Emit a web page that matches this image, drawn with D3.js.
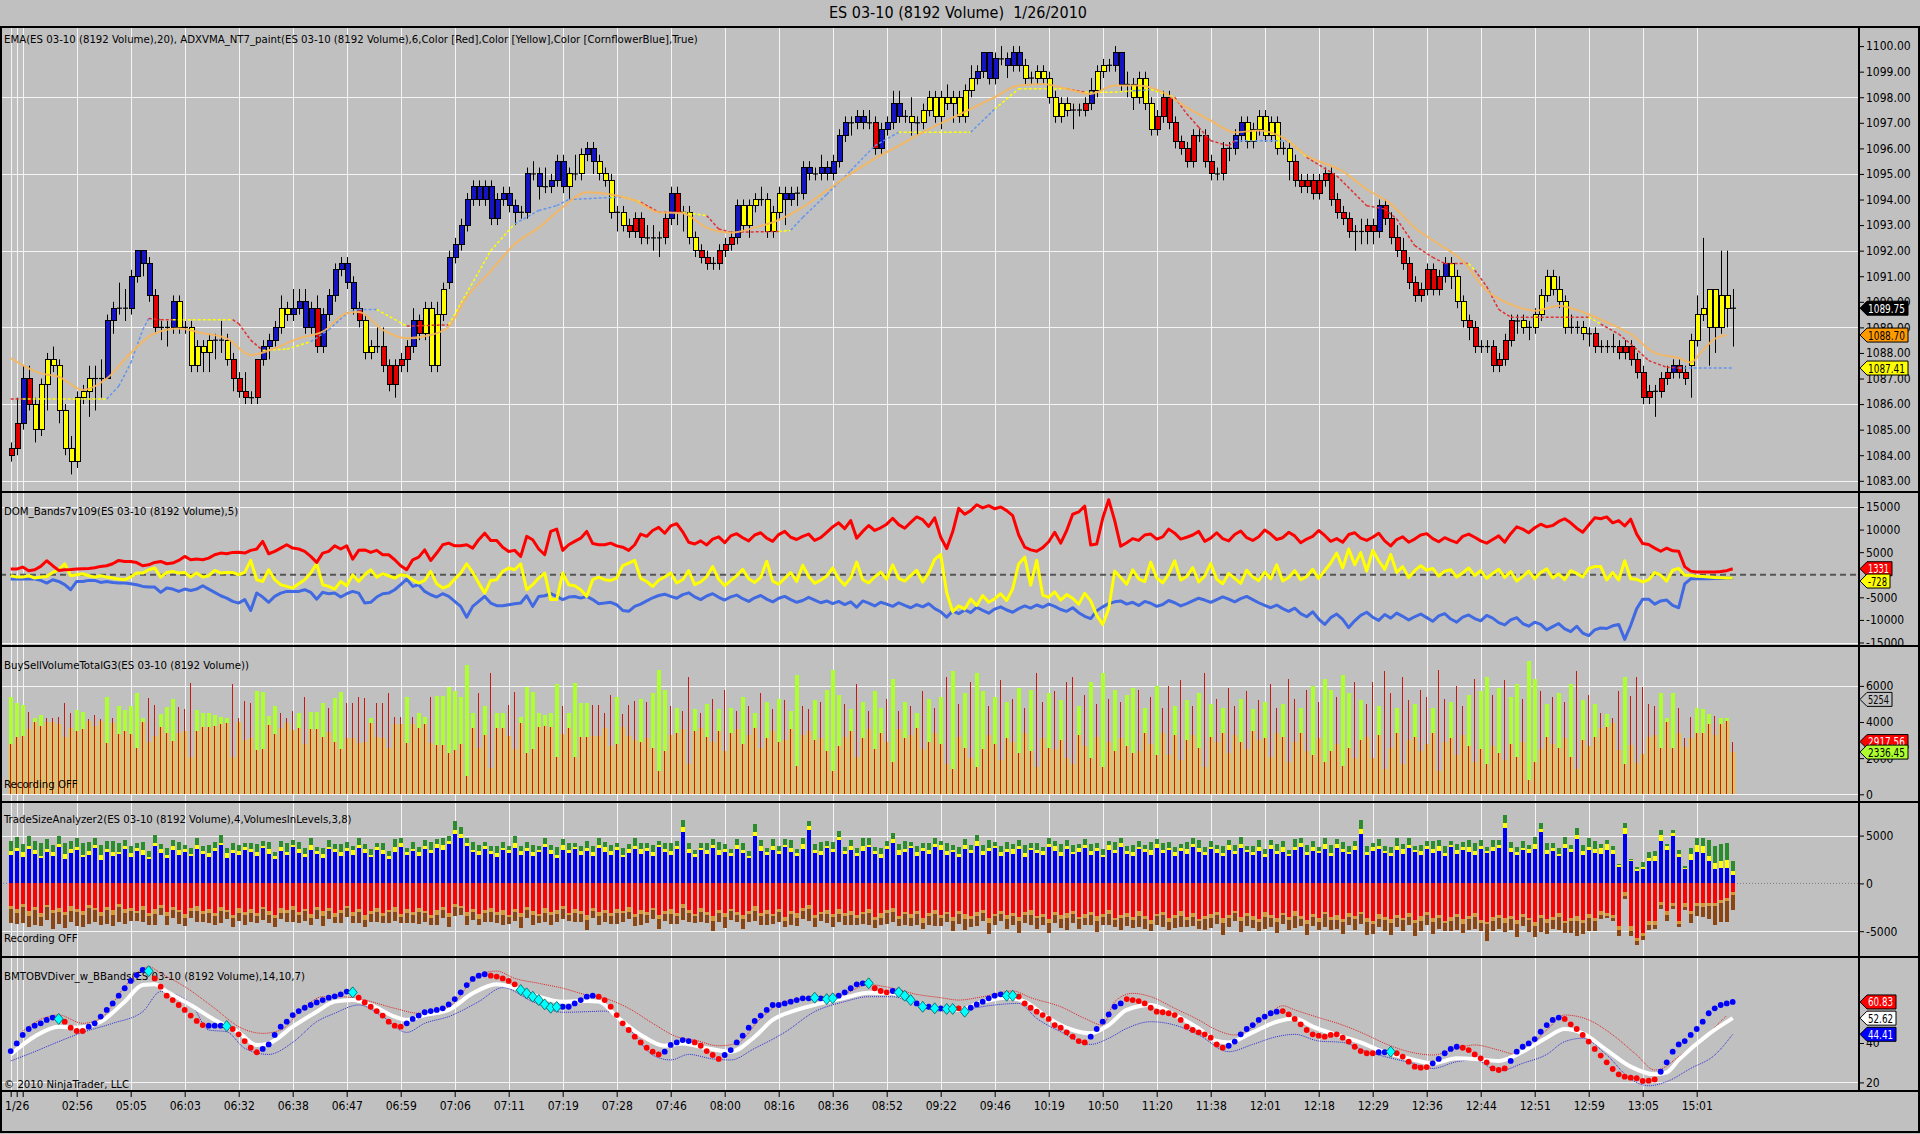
<!DOCTYPE html>
<html>
<head>
<meta charset="utf-8">
<script src="https://cdn.jsdelivr.net/npm/d3@7"></script>
<style>
body{margin:0;background:#c0c0c0;overflow:hidden;}
svg{display:block;font-family:"Liberation Sans Narrow","DejaVu Sans Condensed","Liberation Sans",sans-serif;}
.axis text{font-family:"Liberation Sans Narrow","DejaVu Sans Condensed","Liberation Sans",sans-serif;font-size:12px;fill:#000;}
.axis line{stroke:#000;}
.lbl{font-size:11.3px;fill:#000;}
</style>
</head>
<body>
<div id="chart"></div>
<script>
// ---- price bars (ES 03-10, 8192 volume bars, 1/26/2010) ----
var open = [
1084.25,1084.25,1085.25,1087,1086,1085,1086.75,1087.75,1087.5,1085.75,
1084.25,1083.75,1086.25,1086.5,1087,1087,1087,1089.25,1089.75,1089.75,
1089.75,1091,1092,1091.5,1090.25,1089,1089,1089,1090,1089,
1089,1087.5,1088.25,1088,1088.5,1088.5,1088.5,1087.75,1087,1086.5,
1086.25,1086.25,1087.75,1088.25,1088.5,1089,1089.75,1089.5,1089.75,1090,
1089,1089.75,1088.25,1089.5,1090.25,1091.25,1091.5,1090.75,1089.75,1089.25,
1088,1088.25,1088.25,1087.5,1086.75,1087.5,1087.75,1088.25,1089.25,1088.75,
1089.75,1087.5,1089.5,1090.75,1091.75,1092.25,1093,1094,1094.5,1094,
1094.5,1093.25,1094,1094.25,1093.75,1093.5,1093.5,1095,1095,1094.5,
1094.5,1094.75,1095.5,1094.5,1095,1095,1095.75,1096,1095.5,1095,
1094.75,1093.5,1093.5,1093,1092.75,1093.25,1092.5,1092.5,1092.5,1092.5,
1093.25,1094.25,1093.5,1093.5,1092.5,1092,1091.75,1091.5,1091.5,1092,
1092.25,1092.5,1093.75,1093,1093.75,1094,1094,1092.75,1093.5,1094.25,
1094,1094.25,1094.25,1095.25,1095,1095,1095.25,1095,1095.5,1096.5,
1097,1097,1097.25,1097,1097,1096,1096.75,1097,1097.75,1097.25,
1097.25,1097,1097,1097.5,1098,1097.25,1098,1097.75,1098,1097.25,
1098.25,1098.75,1099,1099.75,1098.75,1099.5,1099.5,1099.25,1099.75,1099.25,
1098.75,1098.75,1099,1098.75,1098,1097.25,1097.75,1097.5,1097.5,1097.5,
1097.75,1098.25,1099,1099.25,1099.25,1099.75,1098.5,1098.5,1098,1098.75,
1097.75,1096.75,1097.25,1098,1097,1096.25,1096,1095.5,1096.5,1096.5,
1095.5,1095,1095,1096,1096,1096.5,1097,1096.25,1096.75,1097.25,
1096.5,1097,1096,1096,1095.5,1094.75,1094.5,1094.75,1094.25,1094.75,
1095,1094,1093.5,1093.25,1092.75,1092.75,1092.75,1093,1092.75,1093.75,
1093.25,1092.5,1092,1091.5,1090.75,1090.25,1090.5,1091.25,1090.5,1091,
1091.5,1091,1090,1089.25,1089,1088.25,1088.25,1088.25,1087.5,1087.75,
1088.5,1089.25,1089.25,1089,1089,1089.5,1090.25,1091,1090.5,1090,
1089,1089,1089,1088.75,1088.75,1088.25,1088.25,1088.25,1088.25,1088,
1088.25,1087.75,1087.25,1086.25,1086.5,1086.5,1087,1087.25,1087.5,1087.25,
1087.5,1088.5,1089.5,1089,1090.5,1089,1090.25,1089.75];
var high = [
1084.5,1086.25,1087.5,1087.5,1086.25,1087,1088,1088.25,1087.75,1086,
1084.75,1086.5,1086.75,1087.5,1087.5,1087.75,1089.5,1090,1090.75,1090.5,
1091.25,1092,1092,1091.75,1090.5,1089.25,1089.25,1090.25,1090.25,1089.25,
1089.25,1088.5,1088.5,1088.75,1088.75,1089.25,1088.75,1088,1087.25,1087.25,
1086.5,1087.75,1088.5,1088.75,1089.25,1090.25,1090,1090.5,1090.5,1090.5,
1090,1090.25,1089.75,1090.5,1091.5,1091.75,1091.75,1091,1090,1089.5,
1088.5,1089,1089,1087.75,1087.75,1088,1088.5,1089.75,1089.5,1090,
1090,1090,1090.75,1092,1092.5,1093.25,1094.25,1094.75,1094.75,1094.75,
1094.75,1094.25,1094.5,1094.5,1094,1093.75,1095.25,1095.5,1095.25,1095.25,
1095,1095.75,1095.75,1095.25,1095.75,1096,1096.25,1096.25,1095.75,1095.25,
1095,1093.75,1093.75,1093.25,1093.5,1093.5,1093,1093,1092.75,1093.5,
1094.5,1094.5,1093.75,1093.75,1092.75,1092.25,1092,1091.75,1092.25,1092.5,
1092.75,1094,1094,1094,1094.25,1094.5,1094.25,1093.75,1094.5,1094.5,
1094.5,1094.5,1095.5,1095.5,1095.25,1095.75,1095.5,1095.75,1096.75,1097.25,
1097.25,1097.5,1097.5,1097.5,1097.25,1097,1097.25,1098.25,1098.25,1097.5,
1098,1097.25,1097.75,1098.25,1098.25,1098.25,1098.5,1098.25,1098.25,1098.5,
1099.25,1099.25,1099.75,1099.75,1099.75,1100,1099.75,1100,1100,1099.5,
1099,1099.25,1099.25,1099,1098.25,1098,1098,1097.75,1097.75,1098,
1098.75,1099.25,1099.5,1099.5,1100,1099.75,1099,1098.75,1099,1099,
1098,1097.5,1098.25,1098.25,1097.25,1096.5,1096.25,1096.75,1096.75,1096.75,
1095.75,1095.25,1096.25,1096.25,1096.75,1097.25,1097.25,1097,1097.5,1097.5,
1097.25,1097.25,1096.25,1096.25,1095.75,1095,1095,1095,1095,1095.25,
1095.25,1094.25,1093.75,1093.5,1093,1093.25,1093.25,1093.25,1094,1094,
1093.5,1093,1092.5,1091.75,1091,1090.75,1091.5,1091.5,1091.25,1091.75,
1091.75,1091.25,1090.25,1089.5,1089.25,1088.5,1088.5,1088.5,1088,1088.75,
1089.5,1089.5,1089.5,1089.25,1089.75,1090.5,1091.25,1091.25,1091,1090.25,
1089.5,1089.25,1089.25,1089,1089,1088.5,1088.5,1088.75,1088.5,1088.5,
1088.5,1088,1087.5,1086.75,1086.75,1087.25,1087.5,1087.75,1087.75,1087.5,
1088.75,1090.25,1092.5,1090.5,1090.5,1092,1092,1090.5];
var low = [
1083.75,1084,1085,1085.75,1084.5,1084.75,1085.75,1087.25,1085.25,1084,
1083.25,1083.5,1086,1085.5,1085.75,1086.25,1087,1088.75,1089.5,1089.25,
1089.5,1090.75,1091,1090,1088.75,1088.5,1088.25,1088.75,1088.75,1088.75,
1087.25,1087.25,1087.25,1087.25,1087.75,1088,1087.5,1086.5,1086.25,1086,
1086,1086,1087.5,1087.75,1088.25,1088.75,1089.25,1089.25,1089.5,1088.75,
1088.75,1088,1088,1089.25,1090,1091,1090.5,1089.5,1089,1087.75,
1087.75,1088,1087.25,1086.5,1086.25,1087.25,1087.25,1088,1088.5,1088.5,
1087.25,1087.25,1089.25,1090.5,1091.5,1092,1092.75,1093.75,1093.75,1093.75,
1093,1093,1093.75,1093.5,1093,1093.25,1093.25,1094.75,1094,1094.25,
1094.25,1094.5,1094.25,1094,1094.75,1094.75,1095.5,1095,1094.75,1094.5,
1093.25,1092.75,1092.75,1092.5,1092.5,1092.25,1092.25,1092,1091.75,1092.25,
1093,1093,1092.75,1092.25,1091.75,1091.5,1091.25,1091.25,1091.25,1091.75,
1092,1092.25,1092.75,1092.5,1093.5,1093.75,1092.5,1092.5,1093.25,1093,
1093.75,1093.75,1094,1094.75,1094.75,1094.75,1094.75,1094.75,1095.25,1096.25,
1096.5,1096.75,1096.75,1096.75,1095.75,1095.75,1096.5,1096.75,1097,1097,
1096.5,1096.5,1096.75,1097.25,1097,1096.75,1097.5,1097,1097,1097,
1098,1098.5,1098.75,1098.5,1098.5,1099.25,1098.75,1099,1099,1098.5,
1098.5,1098.5,1098.5,1097.75,1097,1097,1097.25,1096.75,1097.25,1097.25,
1097.5,1098,1098.75,1099,1099,1098.25,1098,1097.5,1097.75,1097.5,
1096.5,1096.5,1097,1096.75,1096,1095.75,1095.25,1095.25,1096.25,1095.25,
1094.75,1094.75,1094.75,1095.5,1095.75,1096.25,1096,1096,1096.5,1096.25,
1096.25,1095.75,1095.75,1094.75,1094.5,1094.25,1094.25,1094,1094,1094.5,
1093.75,1093.25,1093,1092.5,1092,1092.25,1092.25,1092.25,1092.5,1093,
1092.25,1091.75,1091.25,1090.5,1090,1090,1090.25,1090.25,1090.25,1090.75,
1090.5,1089.75,1089,1088.5,1088,1088,1088,1087.25,1087.25,1087.5,
1088.25,1088.75,1088.75,1088.5,1088.75,1089.25,1090,1090.25,1089.75,1088.75,
1088.75,1088.75,1088.5,1088.25,1088,1088,1088,1088,1087.75,1087.75,
1087.5,1087,1086,1086,1085.5,1086.25,1086.75,1087,1087,1086.75,
1086.25,1088.25,1089.25,1087.5,1088,1088.75,1089,1088.25];
var close = [
1084,1085.25,1087,1086,1085,1086.75,1087.75,1087.5,1085.75,1084.25,
1083.75,1086.25,1086.5,1087,1087,1087,1089.25,1089.75,1089.75,1089.75,
1091,1092,1091.5,1090.25,1089,1089,1089,1090,1089,1089,
1087.5,1088.25,1088,1088.5,1088.5,1088.5,1087.75,1087,1086.5,1086.25,
1086.25,1087.75,1088.25,1088.5,1089,1089.75,1089.5,1089.75,1090,1089,
1089.75,1088.25,1089.5,1090.25,1091.25,1091.5,1090.75,1089.75,1089.25,1088,
1088.25,1088.25,1087.5,1086.75,1087.5,1087.75,1088.25,1089.25,1088.75,1089.75,
1087.5,1089.5,1090.5,1091.75,1092.25,1093,1094,1094.5,1094,1094.5,
1093.25,1094,1094.25,1093.75,1093.5,1093.5,1095,1095,1094.5,1094.5,
1094.75,1095.5,1094.5,1095,1095,1095.75,1096,1095.5,1095,1094.75,
1093.5,1093.5,1093,1092.75,1093.25,1092.5,1092.5,1092.5,1092.5,1093.25,
1094.25,1093.5,1093.5,1092.5,1092,1091.75,1091.5,1091.5,1092,1092.25,
1092.5,1093.75,1093,1093.75,1094,1094,1092.75,1093.5,1094.25,1094,
1094.25,1094.25,1095.25,1095,1095,1095.25,1095,1095.5,1096.5,1097,
1097,1097.25,1097,1097,1096,1096.75,1097,1097.75,1097.25,1097.25,
1097,1097,1097.5,1098,1097.25,1098,1097.75,1098,1097.25,1098.25,
1098.75,1099,1099.75,1098.75,1099.5,1099.5,1099.25,1099.75,1099.25,1098.75,
1098.75,1099,1098.75,1098,1097.25,1097.75,1097.5,1097.5,1097.5,1097.75,
1098.25,1099,1099.25,1099.25,1099.75,1098.5,1098.5,1098,1098.75,1097.75,
1096.75,1097.25,1098,1097,1096.25,1096,1095.5,1096.5,1096.5,1095.5,
1095,1095,1096,1096,1096.5,1097,1096.25,1096.75,1097.25,1096.5,
1097,1096,1096,1095.5,1094.75,1094.5,1094.75,1094.25,1094.75,1095,
1094,1093.5,1093.25,1092.75,1092.75,1092.75,1093,1092.75,1093.75,1093.25,
1092.5,1092,1091.5,1090.75,1090.25,1090.5,1091.25,1090.5,1091,1091.5,
1091,1090,1089.25,1089,1088.25,1088.25,1088.25,1087.5,1087.75,1088.5,
1089.25,1089.25,1089,1089,1089.5,1090.25,1091,1090.5,1090,1089,
1089,1089,1088.75,1088.75,1088.25,1088.25,1088.25,1088.25,1088,1088.25,
1087.75,1087.25,1086.25,1086.5,1086.5,1087,1087.25,1087.5,1087.25,1087,
1088.5,1089.5,1089.75,1090.5,1089,1090.25,1089.75,1089.75];
// ADXVMA paint per bar: r = down, y = flat, b = up
var paint = ("rrbryyyyyy" + "yyyyyybbbb" + "bbbbryybyy" + "yyyyyyyrrr" + "rrbbbyybbb" +
  "brbbbbbbry" + "yyrrrrrbry" + "yyybbbbbbb" + "bbbbbbbbbb" + "bbbyyybbyy" +
  "yyyrrrrrrr" + "bryyyrrrrr" + "rbyyyyyyyb" + "bbbbbbbbbb" + "bbbbrbbbby" +
  "yyyyyyyyyy" + "ybbbbbbbby" + "yyyyyyyyyr" + "byyybbyyyy" + "yrrrrrrrrr" +
  "rrrrbbyyyy" + "yyyyrrrrrr" + "rrrrrrrrbr" + "rrrrrrrrrb" + "yyyrrrrrrr" +
  "ryyyyyyyyy" + "yyyyrrrrrr" + "rrrrrrrbrr" + "yyyyyyyy").split("");

// EMA(20)  [bar, value]
var ema = [[0,1087.8],[5,1087.2],[8,1087.07],[12,1086.55],[16,1087.0],[20,1088.0],[24,1088.77],[28,1088.96],
[32,1088.77],[36,1088.57],[40,1087.92],[44,1088.18],[48,1088.57],[52,1088.83],[56,1089.55],[58,1089.6],
[62,1088.9],[66,1088.57],[70,1088.7],[73,1089.03],[76,1090.18],[80,1091.2],[84,1092.26],[88,1092.9],
[92,1093.7],[96,1094.28],[100,1094.2],[104,1093.96],[108,1093.5],[112,1093.46],[116,1092.9],[120,1092.7],
[124,1092.9],[128,1093.2],[132,1093.7],[136,1094.35],[140,1095.0],[144,1095.6],[148,1096.1],[152,1096.63],
[156,1097.09],[160,1097.54],[164,1098.0],[168,1098.46],[172,1098.52],[176,1098.33],[180,1098.13],[184,1098.46],
[188,1098.46],[192,1098.2],[196,1097.6],[200,1097.09],[204,1096.63],[208,1096.7],[212,1096.43],[216,1095.72],
[222,1095.1],[226,1094.4],[230,1093.83],[234,1092.9],[238,1092.26],[242,1091.6],[246,1090.44],[250,1089.9],
[254,1089.65],[258,1089.85],[262,1089.6],[266,1089.2],[270,1088.74],[274,1088.0],[278,1087.8],[280,1087.63],
[282,1088.1],[284,1088.55],[286,1088.7]];

// ADXVMA line: bars, values, colour of the segment that starts there
var adxBars = [0,2,16,18,20,22,23,25,27,37,38,40,42,46,50,53,56,58,61,66,73,80,84,88,91,93,102,105,108,112,116,118,120,
  128,130,132,136,140,144,148,160,164,168,176,179,184,187,190,194,196,198,200,203,204,213,216,221,226,229,231,234,237,
  239,243,244,246,248,250,263,265,268,270,273,276,278,287];
var adxVals = [1086.2,1086.2,1086.2,1086.7,1087.6,1088.9,1089.35,1089.3,1089.3,1089.3,1089.15,1088.5,1088.1,1088.15,
  1088.44,1088.9,1089.55,1089.7,1089.7,1089.05,1089.1,1092.0,1093.05,1093.57,1093.76,1094.0,1094.1,1093.9,1093.5,
  1093.5,1093.37,1092.85,1092.72,1092.75,1092.8,1093.3,1094.2,1095.13,1096.1,1096.63,1096.63,1097.54,1098.33,1098.33,
  1098.2,1098.2,1098.25,1098.3,1098.0,1097.35,1096.83,1096.3,1096.1,1096.3,1096.3,1095.65,1094.93,1093.76,1093.63,
  1093.24,1092.2,1091.74,1091.5,1091.5,1091.24,1090.6,1089.7,1089.4,1089.4,1089.13,1088.74,1088.35,1087.7,1087.44,
  1087.41,1087.41];
var adxPaint = "rybbbbrryrrryybbbbyryybbbbyrryrrrybbbbbybyyryybyrrrrrbyrrrrrrrryrrrryrrrrrbyy".split("");

// ---- DOM_Bands (thousands) ----
var domRed = [1.25,1.25,1.7,0.9,1.1,1.85,3.1,2.0,0.96,1.1,
1.15,1.25,1.33,1.4,1.55,1.85,2.0,2.44,3.17,2.95,
2.95,2.7,2.0,2.2,2.73,2.95,2.44,2.58,3.17,4.06,
3.32,3.47,3.32,3.69,4.43,4.8,4.65,4.95,5.0,4.8,
5.4,5.7,7.4,4.65,5.17,5.9,6.64,5.9,5.7,5.17,
4.06,2.73,4.8,5.17,6.4,5.7,6.4,3.47,5.4,5.5,
4.95,5.4,4.43,4.43,3.32,2.0,1.1,3.32,3.9,5.5,
3.17,4.8,6.64,7.0,6.4,6.4,6.64,5.9,7.75,9.2,
7.6,7.6,6.1,5.17,5.4,4.06,8.5,7.75,5.7,4.43,
9.6,10.1,5.4,6.64,7.4,8.1,9.6,6.9,6.64,6.64,
7.0,6.4,6.1,5.4,6.64,
9.0,8.5,9.8,10.5,9.2,10.8,11.3,9.5,7.2,6.8,
7.5,6.6,7.9,8.4,7.1,8.6,9.1,8.2,7.5,8.8,
9.3,8.1,7.4,8.9,9.6,8.3,7.8,8.5,9.0,7.6,
8.2,9.4,10.6,11.5,10.2,12.0,8.1,9.6,10.9,9.8,
10.4,11.2,12.5,11.1,10.3,11.6,12.8,12.2,10.7,12.6,
8.3,5.8,9.5,14.7,13.4,14.2,15.5,14.8,15.3,14.6,
15.0,14.2,13.1,8.8,6.1,5.5,5.2,6.0,7.3,9.4,
7.0,9.8,13.4,13.9,15.2,6.6,6.8,12.5,16.6,12.0,6.3,
7.1,8.0,7.6,8.8,9.0,7.9,8.4,10.1,9.2,7.9,
8.3,8.8,9.6,7.4,8.1,9.3,8.0,7.5,8.9,9.7,
8.2,7.6,8.4,9.9,9.0,7.8,8.2,9.4,8.6,7.1,
7.9,8.5,9.8,8.7,7.4,8.0,7.2,8.9,9.3,8.1,
7.6,8.3,9.2,7.5,6.4,7.8,8.4,7.2,7.9,8.8,
9.1,8.0,7.3,8.2,7.6,7.1,8.5,9.0,8.3,7.5,
7.0,7.8,8.6,7.2,9.1,10.6,10.1,9.3,10.4,11.2,
10.6,10.9,11.8,12.4,11.5,10.3,9.4,11.0,12.6,
12.4,12.8,11.5,12.0,10.8,12.3,9.0,6.9,6.7,5.9,5.2,5.9,5.3,5.2,
1.8,0.8,0.6,0.6,0.6,0.6,0.7,0.9,1.331];
var domYellow = [-0.22,-0.52,-0.52,-0.22,-0.74,-0.52,-0.37,0.52,1.1,2.44,
-0.22,0,0.22,-0.22,-0.52,-0.22,-0.52,-0.74,-0.96,-1.1,
-0.52,0.37,0.37,1.1,1.48,-0.52,0.52,0.74,0.37,0.52,
-0.52,0.37,-0.52,-0.22,0.96,0.37,0.52,0.52,0,0.52,
3.17,-1.1,-1.48,1.1,-1.1,-2.2,-2.58,-2.95,-2.0,-1.1,
0.37,2.44,-2.2,-2.58,-3.17,-1.48,-2.44,0,-1.48,0,
1.1,-0.52,0.22,-0.22,-0.74,0,-0.22,-1.1,-1.85,-1.25,
0.74,-2.0,-2.95,-2.44,-0.96,0.37,2.44,0.52,-1.85,-4.06,
-1.25,-1.1,0.74,1.48,1.1,2.44,-3.32,-2.2,-0.74,0.37,
-5.5,-5.5,0.37,-2.2,-2.44,-3.32,-4.8,-1.1,-0.52,-1.1,
-1.25,-0.74,2.0,2.58,3.17,
-0.8,-1.5,-2.6,-1.2,-0.5,0.4,-1.8,-1.1,0.9,-2.2,
-1.6,-0.4,1.8,-1.0,-2.4,-1.3,-0.2,1.2,-0.9,-1.7,
-0.6,3.0,-1.4,-2.1,-0.8,0.5,-1.5,2.1,-0.4,-1.9,
-1.2,-0.3,1.5,-0.9,-2.3,-0.7,2.8,-1.1,-1.8,-0.5,
0.6,-1.0,2.2,-0.8,-1.4,-0.2,1.0,-1.6,0.4,3.4,
4.5,-4.0,-8.2,-6.9,-7.6,-5.4,-6.8,-4.6,-6.1,-5.3,
-4.2,-5.7,-3.1,2.4,3.9,-2.3,3.2,-4.5,-5.0,-3.8,
-5.6,-4.4,-5.2,-6.5,-4.1,-5.8,-9.0,-11.0,-7.5,0.8,
-0.6,-2.1,1.1,-0.9,-1.5,2.8,-0.7,-1.8,0.2,3.1,
-1.2,-0.4,1.6,-1.6,-0.3,2.5,-1.0,-2.0,0.3,-0.8,
-1.9,1.0,-0.5,-1.3,0.6,-0.9,2.2,-1.4,-0.6,0.9,
-1.1,-0.4,1.2,-0.8,0.9,2.6,4.8,1.5,5.7,2.2,
4.9,0.8,5.4,3.1,1.2,4.5,0.5,1.8,-0.6,0.9,
2.0,1.0,1.4,-0.3,0.8,1.1,-0.5,0.4,1.5,-0.2,
0.9,-0.8,0.3,1.2,-0.6,0.7,-1.4,-0.4,0.8,-0.9,
0.5,1.3,-0.7,0.2,-1.1,0.9,0.3,-0.5,1.4,1.8,
1.8,-1.15,0.5,-1.15,3.1,-0.9,-1.0,-1.6,-1.1,0.5,
-0.1,-1.4,1.0,1.4,-0.1,-0.1,-0.35,-0.4,-0.5,-0.6,-0.65,-0.7,-0.728];
var domBlue = [-0.96,-0.96,-0.96,-0.96,-0.96,-1.25,-1.85,-1.1,-1.48,-2.2,
-3.32,-1.48,-1.48,-1.25,-1.25,-1.7,-1.48,-1.7,-1.85,-1.85,
-2.0,-2.2,-2.58,-2.73,-2.73,-3.9,-2.95,-3.17,-3.69,-3.17,
-3.47,-3.17,-2.44,-3.17,-3.9,-4.65,-5.17,-5.9,-6.27,-5.5,
-7.9,-4.06,-4.94,-6.1,-4.8,-4.06,-3.69,-3.69,-3.69,-3.32,
-3.9,-5.4,-3.9,-4.2,-4.06,-4.94,-4.2,-3.69,-4.06,-6.27,
-6.1,-4.94,-4.2,-4.06,-3.32,-2.2,-0.96,-2.58,-2.2,-3.69,
-4.43,-4.94,-4.2,-4.8,-5.9,-7.0,-9.4,-7.0,-5.9,-4.8,
-6.27,-6.86,-6.86,-6.64,-6.4,-6.27,-4.65,-7.0,-4.8,-4.65,
-4.2,-4.8,-5.5,-4.94,-4.8,-5.17,-4.8,-5.5,-6.4,-6.27,
-6.1,-6.64,-7.9,-8.1,-7.0,
-6.5,-5.8,-5.1,-4.6,-4.3,-4.8,-5.2,-4.4,-4.0,-4.9,
-5.5,-4.7,-4.2,-5.0,-5.6,-4.9,-4.5,-5.3,-5.9,-5.1,
-4.6,-5.4,-6.0,-5.2,-4.8,-5.5,-6.1,-5.7,-5.0,-5.6,
-6.2,-5.8,-6.4,-5.9,-6.6,-6.0,-7.2,-5.8,-6.3,-6.9,
-6.1,-6.5,-7.0,-6.2,-6.8,-7.3,-6.6,-7.1,-6.4,-7.5,
-8.2,-9.4,-8.0,-8.6,-7.8,-8.4,-7.2,-7.9,-8.5,-7.6,
-7.1,-7.8,-8.3,-7.5,-6.9,-7.4,-6.7,-7.2,-6.5,-7.0,
-7.7,-8.1,-7.3,-8.4,-9.2,-9.7,-8.0,-7.1,-6.4,-6.0,
-5.8,-6.5,-6.1,-6.8,-5.9,-6.3,-7.0,-6.6,-5.7,-6.2,
-6.9,-6.4,-5.8,-5.2,-5.6,-6.1,-5.5,-4.9,-5.4,-6.0,
-5.3,-4.8,-5.5,-6.2,-6.8,-7.3,-6.7,-7.5,-8.1,-7.4,
-8.6,-9.3,-8.2,-9.8,-11.0,-9.5,-8.7,-9.9,-11.7,-10.2,
-9.0,-8.3,-9.4,-10.1,-8.8,-9.6,-8.5,-9.2,-10.0,-9.3,
-8.7,-9.5,-10.3,-9.1,-8.6,-9.8,-10.5,-9.4,-8.9,-9.7,
-10.2,-9.0,-9.6,-10.6,-11.1,-10.0,-9.5,-10.8,-11.4,-10.5,
-11.0,-12.2,-11.5,-10.8,-12.0,-12.6,-11.4,-12.9,-13.5,-12.2,
-11.8,-11.9,-11.3,-11.0,-14.3,-11.2,-7.5,-5.4,-5.4,-6.5,
-5.8,-5.6,-6.8,-7.3,-2.0,-0.9,-0.9,-0.9,-0.9,-0.85,-0.85,-0.8,-0.8];

// ---- BuySellVolume ----
var buys = [5410,5040,4950,3610,4210,4400,3980,3980,3890,3150,
3670,4670,4580,4030,3790,4030,5375,3960,4860,4670,
4860,5600,4210,2870,3240,4450,4820,5260,3370,3480,
2040,4670,4490,4490,4400,4300,4250,2090,3980,3000,
3110,5730,5690,4340,4860,3670,3940,3570,4525,2780,
4580,4580,5040,3430,5320,5690,3110,3110,2815,2870,
4250,3150,3110,2590,3890,3890,5375,3890,4525,4300,
2815,5450,5450,5930,5745,5410,7170,4525,2590,4895,
1450,4525,4525,3240,2500,4270,5930,5690,4490,4400,
4490,6110,3330,4525,6150,5040,5040,3240,3240,3670,
2690,5410,3740,3240,3000,
5300,3090,5600,6900,5800,3290,4800,3590,1690,4700,
3690,5000,2890,4700,2390,4800,3590,5400,3290,4500,
2590,5100,3490,5300,2990,4600,6600,3290,3490,5200,
3090,5800,6900,5500,3190,4700,2090,5100,3590,5700,
4800,2890,6400,3590,5100,3290,4500,2490,5300,3390,
5400,1690,6800,3190,5600,1990,6700,5700,3290,5400,
1890,5100,2890,5900,3390,5800,1490,3090,5600,2490,
5200,1990,1690,4900,2690,6200,3190,6700,2890,5800,
3090,5500,5900,2390,4800,2790,6000,3390,2190,4900,
1890,5200,3290,5600,1490,5000,2890,4800,2290,3290,
5300,2490,4700,2990,5100,2090,3390,5000,1790,2890,
4800,2390,6000,3090,6400,5800,2790,6600,5600,1990,
5200,3190,1990,4900,1390,2590,4800,1690,2990,5000,
2390,2790,4800,1290,2890,5100,2190,3290,5500,1790,
5700,6500,2690,5900,1890,5400,6100,2890,7400,6400,
2490,5000,2790,5600,3090,6100,1390,5200,2690,5000,
3690,4450,3950,2470,6470,2730,1720,2240,3190,3290,
5620,4200,5620,3410,2600,3100,4800,4700,4450,3300,4200,4200,2336.45];
var sells = [2780,3150,3240,4580,3980,3790,4210,4210,4300,5040,
4525,3520,3610,4160,4400,4160,2815,4230,3330,3520,
3330,2590,3980,5320,4950,3740,3370,2930,4820,4710,
6150,3520,3700,3700,3790,3890,3940,6100,4210,5190,
5080,2460,2500,3850,3330,4525,4250,4620,3670,5410,
3610,3610,3150,4765,2870,2500,5080,5080,5375,5320,
3940,5040,5080,5600,4300,4300,2815,4300,3670,3890,
5375,2740,2740,2260,2445,2780,1020,3670,5600,3295,
6740,3670,3670,4950,5690,3920,2260,2500,3700,3790,
3700,2080,4860,3670,2040,3150,3150,4950,4950,4525,
5500,2780,4450,4950,5190,
2890,5100,2590,1290,2390,4900,3390,4600,6500,3490,
4500,3190,5300,3490,5800,3390,4600,2790,4900,3690,
5600,3090,4700,2890,5200,3590,1590,4900,4700,2990,
5100,2390,1290,2690,5000,3490,6100,3090,4600,2490,
3390,5300,1790,4600,3090,4900,3690,5700,2890,4800,
2790,6500,1390,5000,2590,6200,1490,2490,4900,2790,
6300,3090,5300,2290,4800,2390,6700,5100,2590,5700,
2990,6200,6500,3290,5500,1990,5000,1490,5300,2390,
5100,2690,2290,5800,3390,5400,2190,4800,6000,3290,
6300,2990,4900,2590,6700,3190,5300,3390,5900,4900,
2890,5700,3490,5200,3090,6100,4800,3190,6400,5300,
3390,5800,2190,5100,1790,2390,5400,1590,2590,6200,
2990,5000,6200,3290,6800,5600,3390,6500,5200,3190,
5800,5400,3390,6900,5300,3090,6000,4900,2690,6400,
2490,1690,5500,2290,6300,2790,2090,5300,790,1790,
5700,3190,5400,2590,5100,2090,6800,2990,5500,3190,
4500,3740,4240,5720,1700,5460,6470,5950,5000,4900,
2570,3990,2570,4780,3100,4300,3400,3400,3900,4350,3900,4050,2917.56];

// ---- TradeSizeAnalyzer2 (hundreds of contracts per level) ----
var tsBlue = [30,34,28,36,31,27,33,29,38,26,32,35,28,30,37,25,33,29,31,36,
28,34,30,26,39,32,27,35,30,33,29,36,31,28,34,40,27,32,30,35,
33,29,37,31,26,34,30,38,32,28,35,31,27,36,33,29,34,30,37,32,
28,35,31,26,33,38,30,34,29,36,32,37,35,41,52,48,39,33,30,36,
31,28,35,32,37,30,34,29,33,38,31,27,35,32,36,30,34,29,37,33,
30,35,28,32,36,31,34,29,38,33,30,36,54,32,28,35,31,37,30,33,
29,36,32,27,50,34,30,35,31,38,33,29,36,56,32,30,37,33,45,31,
35,29,34,38,31,27,36,42,30,33,37,29,34,31,38,35,30,33,28,36,
32,39,30,34,37,29,33,31,36,28,35,32,30,38,34,29,36,31,33,37,
30,34,28,35,32,38,31,29,36,33,30,37,32,35,29,34,31,38,33,30,
36,32,29,35,31,37,33,30,34,28,
36,31,33,29,35,38,30,34,32,36,29,37,33,31,35,52,30,34,36,32,
29,35,31,37,33,30,36,32,34,29,38,31,35,33,30,36,32,34,37,58,
33,30,35,32,36,54,31,34,29,37,33,46,30,35,32,
31,35,31,17,52,23,13,15,23,23,44,35,50,28,15,25,33,32,23,15,16,16,9];
var tsYellow = [4,3,5,3,4,2,3,4,3,5,4,3,2,4,3,5,3,4,2,3,
4,3,5,2,3,4,3,4,5,3,2,4,3,4,3,2,5,3,4,3,
3,4,2,5,3,4,3,2,4,3,5,3,4,2,3,4,3,5,3,4,
2,3,4,3,5,4,3,2,4,3,3,4,5,3,4,4,3,2,4,3,
3,4,2,3,5,4,3,4,2,3,4,3,5,3,2,4,3,4,3,5,
4,3,2,4,3,5,3,4,2,3,4,3,5,4,3,2,4,3,5,3,
3,4,3,2,4,5,3,4,3,2,4,3,5,4,3,4,2,3,4,3,
4,3,5,2,3,4,3,4,5,3,2,4,3,4,3,5,4,2,3,4,
3,5,4,3,2,4,3,5,3,4,2,3,4,3,5,4,3,2,4,3,
4,3,2,5,3,4,3,4,2,3,5,4,3,2,4,3,5,3,4,3,
2,4,3,5,3,4,2,3,4,3,
4,3,5,2,3,4,3,4,2,5,3,4,3,2,4,5,3,4,3,2,
3,4,5,3,2,4,3,4,5,3,2,4,3,5,4,3,2,4,3,5,
4,3,2,4,5,3,4,3,2,4,3,5,4,3,4,
6,6,4,2,6,2,2,2,4,6,7,4,3,3,1,6,7,7,6,6,7,8,4];
var tsGreen = [10,12,8,11,9,13,10,7,9,11,8,10,12,9,7,10,8,11,9,6,
7,5,8,6,9,5,7,6,8,4,6,7,5,8,6,9,5,7,6,4,
6,8,5,7,4,6,9,5,7,6,8,4,6,7,5,8,6,4,7,5,
6,4,7,5,8,6,4,7,5,6,8,5,7,6,9,7,5,8,6,4,
5,7,6,4,8,5,6,7,4,6,5,8,6,7,4,5,7,6,8,5,
6,4,7,5,8,6,5,7,4,6,8,5,7,6,4,5,7,6,8,5,
4,6,7,5,8,6,4,7,5,6,8,4,7,5,6,9,5,7,6,4,
6,5,8,7,4,6,5,7,6,8,4,6,5,7,6,4,8,5,7,6,
5,7,6,8,4,6,7,5,6,8,5,7,4,6,5,8,6,7,4,6,
7,5,6,4,8,6,5,7,6,4,8,5,7,6,5,4,7,6,8,5,
6,4,7,5,6,8,4,6,7,5,
5,7,6,4,8,5,7,6,4,6,8,5,7,6,5,9,6,4,7,5,
6,8,5,7,4,6,5,8,6,7,4,6,5,7,8,6,4,7,5,9,
6,5,7,4,8,6,7,5,6,8,4,7,6,9,8,
4,4,4,1,5,1,2,5,6,5,5,2,3,4,2,6,8,8,16,18,18,18,10];
var tsRed = [24,27,22,29,25,31,23,28,26,30,24,27,29,23,26,30,25,28,22,27,
26,29,24,31,27,23,30,25,28,32,26,24,29,27,31,25,28,33,26,30,
27,31,25,29,33,26,28,24,30,27,32,25,29,26,31,28,24,30,27,33,
29,26,31,28,25,32,27,30,26,29,33,28,25,31,22,24,30,27,32,28,
26,30,28,33,27,31,25,29,32,26,30,28,24,31,27,29,33,26,30,28,
31,27,29,25,32,28,30,26,33,29,27,31,22,28,32,26,30,34,28,31,
27,30,33,29,24,31,28,32,27,35,29,31,26,23,33,30,28,32,27,31,
29,33,30,27,35,31,28,26,34,30,32,29,36,31,28,33,30,35,29,32,
34,30,28,36,32,29,33,31,35,30,28,34,32,37,30,33,31,29,35,32,
30,34,32,28,36,33,31,35,29,34,38,32,30,36,33,29,35,31,37,34,
32,30,36,33,29,35,31,34,37,30,
33,36,31,35,29,34,38,32,36,30,35,33,37,31,34,30,36,39,32,35,
37,33,36,31,38,34,30,36,33,39,35,32,37,34,31,38,40,35,33,36,
34,38,32,36,40,33,37,35,31,39,36,34,38,32,36,
29,31,33,45,9,45,57,52,39,39,19,29,21,39,21,29,20,21,20,20,17,15,9];
var tsOrange = [3,4,3,5,3,4,2,3,4,3,5,3,4,3,2,4,3,5,3,4,
3,2,4,3,5,3,4,3,2,4,3,5,3,4,3,4,2,3,5,3,
4,3,2,4,3,5,3,4,3,2,4,3,5,3,4,3,2,4,3,5,
3,4,3,2,5,3,4,3,4,2,3,5,3,4,3,2,4,3,5,3,
4,3,5,2,3,4,3,4,2,5,3,4,3,2,4,3,5,3,4,3,
3,4,2,5,3,4,3,2,4,3,5,3,4,3,2,4,3,5,3,4,
2,3,4,3,5,3,4,2,3,4,3,5,3,4,3,2,4,3,5,3,
4,3,2,4,3,5,3,4,3,2,4,3,5,3,4,3,2,4,3,5,
3,4,3,5,2,3,4,3,4,3,5,2,3,4,3,4,5,3,2,4,
3,5,3,4,2,3,4,3,5,3,4,2,3,4,3,5,3,4,2,3,
4,3,5,3,2,4,3,4,3,5,
3,4,2,3,5,3,4,3,4,2,3,5,3,4,3,2,4,3,5,3,
4,3,2,4,3,5,3,4,3,2,4,3,5,3,4,3,2,4,3,5,
3,4,3,2,5,3,4,3,4,2,3,5,3,4,3,
4,3,3,4,4,5,3,3,4,4,4,4,3,3,4,3,4,4,4,4,4,3,3];
var tsBrown = [14,11,16,12,15,10,13,17,12,14,11,15,13,16,12,10,14,12,15,11,
10,8,12,9,11,7,10,8,12,9,7,11,8,10,9,12,7,10,8,11,
9,7,11,8,10,6,9,12,8,10,7,9,11,8,6,10,9,7,11,8,
8,10,7,11,9,6,10,8,12,9,7,10,8,11,9,7,10,8,6,9,
10,8,11,7,9,12,8,10,7,9,11,8,10,6,9,8,11,7,10,9,
8,11,9,7,10,12,8,9,11,7,10,8,12,9,7,10,8,11,9,12,
9,7,11,8,10,9,12,8,10,7,11,9,8,12,10,7,9,11,8,10,
11,8,10,12,9,7,11,10,8,12,9,11,7,10,13,9,8,11,10,12,
9,11,8,12,10,7,11,9,13,8,10,12,9,11,8,10,13,9,11,8,
10,12,9,11,8,13,10,9,12,11,8,10,13,9,11,12,8,10,9,12,
11,9,13,10,8,12,11,9,10,13,
10,12,9,11,13,8,12,10,9,14,11,10,13,9,12,10,14,11,9,12,
13,10,12,9,14,11,10,13,12,9,11,14,10,12,13,9,18,11,12,10,
12,14,10,13,11,15,12,10,14,11,13,16,12,14,11,
4,2,3,6,3,5,4,4,6,5,4,6,3,4,3,9,10,10,13,19,19,22,16];

// ---- BMTOBVDiver_w_BBands ----
var bmt = [35.9,39.8,44.1,47.1,48.8,50.0,51.7,52.9,52.2,50.8,
47.8,46.1,46.1,48.3,50.0,53.4,56.8,60.1,64.0,67.8,
71.5,74.5,77.1,76.5,72.8,68.6,64.0,61.8,59.3,56.8,
53.9,51.2,49.1,48.8,48.8,48.8,48.6,47.1,44.4,41.0,
37.6,35.3,37.0,39.3,44.1,48.3,50.8,54.2,56.2,57.9,
59.3,60.6,61.8,63.0,63.7,64.7,66.1,65.7,63.0,60.6,
58.4,56.2,53.9,50.8,48.8,48.3,50.0,52.2,53.9,55.6,
56.2,56.8,57.6,59.6,62.3,65.7,69.4,72.5,74.2,74.9,
74.2,73.7,72.8,71.5,69.8,66.9,65.2,63.5,61.8,59.6,
57.9,58.3,58.4,58.4,60.1,61.8,63.5,64.0,63.5,61.8,
58.4,54.2,50.0,46.6,43.2,40.3,37.6,35.6,34.2,35.6,
39.0,40.3,41.5,41.0,40.3,38.6,35.9,33.9,31.9,33.9,
36.4,40.3,43.7,47.8,51.2,53.9,56.8,59.3,59.3,60.1,
61.0,61.8,62.7,62.7,63.0,62.7,62.3,62.7,64.0,65.7,
67.8,69.8,70.3,70.3,67.8,66.4,65.7,66.4,65.7,64.0,
61.8,60.1,58.4,58.4,57.6,57.6,57.3,57.3,57.6,55.9,
57.9,59.6,61.0,62.7,64.0,64.7,64.0,64.0,63.5,60.1,
57.9,55.9,54.2,52.2,49.1,47.8,45.4,43.2,41.0,40.3,
43.2,47.1,50.8,54.5,58.4,60.1,62.3,61.8,61.3,60.1,
57.9,55.9,55.6,55.1,54.2,51.7,48.3,46.6,45.4,44.4,
42.7,39.3,37.6,38.6,40.7,44.4,47.1,49.1,51.7,53.4,
55.1,55.9,56.2,54.5,52.2,49.5,46.6,44.4,43.7,43.2,
44.1,44.4,42.7,40.7,38.1,35.9,34.8,34.8,35.3,35.3,
35.6,34.8,33.1,30.5,28.0,27.5,27.8,29.7,31.9,34.8,
37.0,38.1,37.6,36.4,34.2,32.2,30.2,27.1,26.3,27.1,
30.9,35.6,38.1,39.8,42.0,45.7,49.1,51.7,52.9,52.2,
49.5,47.1,44.1,40.7,37.0,33.6,30.2,26.8,24.1,22.9,
22.4,22.1,20.7,20.9,21.5,25.4,30.2,35.6,39.3,41.0,
44.1,47.1,50.8,55.1,57.6,59.3,60.1,60.83];
// b = rising (blue dot), r = falling (red dot), d = divergence (cyan diamond)
var bmtPaint = ("bbbbbbbbdr" + "rrrbbbbbbb" + "bbbdrrrrrr" + "rrrbbbdrrr" + "rrbbbbbbbb" +
  "bbbbbbbdrr" + "rrrrrrbbbb" + "bbbbbbbbbb" + "rrrrrddddd" + "ddbbbbbbrr" +
  "rrrrrrrrrb" + "bbbbrrrrrb" + "bbbbbbbbbb" + "bbbbdbddbb" + "bbbdrrrbdd" +
  "dbdbdbddrd" + "bbbbbbddrr" + "rrrrrrrrrr" + "bbbbbbrrrr" + "rrrrrrrrrr" +
  "rrrbbbbbbb" + "bbrrrrrrrr" + "rrrrrrrrbb" + "drrrrrrbbb" + "bbrrrrrrrr" +
  "bbbbbbbbbr" + "rrrrrrrrrr" + "rrrrrbbbbb" + "bbbbbbbb").split("");
var bmtMid = [[0,34.2],[4,43.3],[8,48.3],[11,47.8],[15,50.8],[19,61.0],[22,69.4],[24,69.8],[26,66.1],[30,59.3],
[34,51.7],[38,45.4],[41,39.0],[43,39.8],[47,48.3],[51,55.9],[54,61.0],[57,61.8],[60,59.3],[64,53.4],[66,51.7],
[69,54.2],[73,56.8],[77,65.2],[81,69.8],[84,68.1],[88,63.5],[92,61.0],[96,61.3],[98,61.0],[101,53.4],[105,44.1],
[109,38.6],[112,39.8],[116,37.3],[120,35.6],[124,43.2],[127,51.7],[131,56.8],[135,60.1],[139,63.0],[143,65.5],
[147,65.2],[151,60.1],[155,57.6],[158,56.8],[162,61.0],[166,63.0],[169,61.0],[173,52.5],[177,46.6],[180,44.9],
[183,49.1],[186,56.8],[190,59.3],[194,54.2],[198,47.4],[201,41.0],[203,40.3],[207,45.4],[211,50.8],[214,52.5],
[217,48.3],[221,44.1],[225,40.3],[228,36.4],[233,32.2],[237,29.7],[241,32.2],[244,31.9],[248,30.9],[252,35.6],
[256,42.7],[259,47.1],[262,44.9],[266,36.4],[270,28.0],[274,24.1],[276,25.1],[278,31.4],[283,44.5],[287,52.62]];
var bmtUpper = [[2,46.0],[5,52.0],[8,54.2],[12,50.0],[15,52.5],[19,68.6],[23,78.7],[25,75.4],[29,68.6],[34,57.6],
[38,48.3],[42,44.9],[45,46.6],[49,58.4],[52,63.5],[55,63.5],[59,61.8],[64,57.6],[68,55.1],[73,58.4],[78,74.5],
[81,76.5],[84,72.8],[88,70.3],[92,67.8],[96,64.4],[99,62.7],[103,57.6],[107,50.0],[111,43.2],[114,41.5],[118,38.6],
[121,39.8],[125,52.5],[129,61.0],[133,62.7],[139,65.2],[143,69.6],[147,67.8],[151,64.7],[155,63.0],[158,61.8],
[162,63.5],[167,66.4],[170,63.0],[175,58.4],[179,52.5],[182,49.1],[184,61.0],[187,65.2],[190,63.5],[194,57.6],
[198,51.7],[201,46.6],[204,44.1],[209,52.5],[212,58.9],[214,56.8],[218,52.9],[222,49.1],[226,44.1],[229,39.8],
[233,35.6],[237,33.9],[241,37.3],[244,39.0],[248,36.4],[251,34.2],[256,46.6],[259,54.2],[263,51.7],[267,44.1],
[271,33.9],[274,26.3],[275,26.8],[278,33.1],[282,42.4],[286,53.9]];
var bmtLower = [[0,30.9],[4,35.6],[8,40.7],[12,45.4],[17,50.0],[22,55.9],[25,66.1],[30,60.1],[33,46.6],[36,45.7],
[39,37.3],[43,34.2],[47,40.3],[51,50.8],[54,55.1],[58,59.3],[62,53.4],[66,45.4],[69,50.0],[73,53.4],[78,61.0],
[82,68.1],[87,61.0],[92,55.6],[96,55.9],[99,56.2],[103,47.4],[107,33.9],[110,31.4],[113,34.2],[117,31.9],[120,31.4],
[124,37.3],[129,45.4],[134,55.9],[139,61.0],[143,63.5],[147,63.5],[151,59.3],[155,56.2],[160,57.6],[164,59.3],
[168,60.1],[171,52.5],[175,45.7],[180,39.3],[183,42.4],[186,47.4],[190,50.8],[194,49.1],[198,44.1],[203,35.6],
[207,39.3],[211,43.2],[214,44.4],[218,41.0],[222,40.3],[226,35.6],[229,33.1],[233,30.2],[237,27.1],[241,30.5],
[244,31.4],[248,25.8],[252,29.7],[256,34.2],[259,40.7],[262,42.4],[266,33.9],[270,21.7],[273,18.3],[276,20.4],
[280,27.1],[284,33.9],[287,44.41]];

// ---- axis ticks ----
var tickBars = [0,1,2,11,20,29,38,47,56,65,74,83,92,101,110,119,128,137,146,155,164,173,182,191,200,209,218,227,236,245,254,263,272,281];
var tickLabels = ["","1/26","","02:56","05:05","06:03","06:32","06:38","06:47","06:59","07:06","07:11","07:19","07:28",
  "07:46","08:00","08:16","08:36","08:52","09:22","09:46","10:19","10:50","11:20","11:38","12:01","12:18","12:29",
  "12:36","12:44","12:51","12:59","13:05","15:01"];
var priceTicks = [1083,1084,1085,1086,1087,1088,1089,1090,1091,1092,1093,1094,1095,1096,1097,1098,1099,1100];
var priceGrid = [1083,1086,1089,1092,1095,1098];
var domTicks = [-15,-10,-5,5,10,15];
var volTicks = [0,2000,4000,6000];
var tsTicks = [-50,0,50];
var bmtTicks = [20,40];

// ---------------- drawing ----------------
var W = 1920, H = 1134, axisX = 1859;
var svg = d3.select("#chart").append("svg").attr("width", W).attr("height", H);
svg.append("rect").attr("width", W).attr("height", H).attr("fill", "#c0c0c0");

var x = d3.scaleLinear().domain([0, 287]).range([10.7, 1732.7]);
var yPrice = d3.scaleLinear().domain([1083, 1100]).range([480.8, 46.1]);
var yDom = d3.scaleLinear().domain([-15, 15]).range([642.5, 507]);
var yVol = d3.scaleLinear().domain([0, 6000]).range([794.3, 685.9]);
var yTs = d3.scaleLinear().domain([-50, 50]).range([931.2, 835.6]);
var yBmt = d3.scaleLinear().domain([20, 40]).range([1082.4, 1043]);

var grid = svg.append("g").attr("stroke", "#f4f4f4").attr("stroke-width", 1).attr("shape-rendering", "crispEdges");
grid.selectAll("line.v").data(tickBars).enter().append("line")
  .attr("x1", function(d){ return Math.round(x(d)) + 0.5; }).attr("x2", function(d){ return Math.round(x(d)) + 0.5; })
  .attr("y1", 27).attr("y2", 1091);
function hgrid(vals, scale) {
  grid.selectAll(null).data(vals).enter().append("line")
    .attr("x1", 0).attr("x2", axisX)
    .attr("y1", function(d){ return Math.round(scale(d)) + 0.5; }).attr("y2", function(d){ return Math.round(scale(d)) + 0.5; });
}
hgrid(priceGrid, yPrice);
hgrid([-15, 15], yDom);
hgrid([0, 6000], yVol);
hgrid([-50, 50], yTs);
hgrid([20], yBmt);

// titles
svg.append("text").attr("x", 958).attr("y", 18).attr("text-anchor", "middle").attr("font-size", 16).attr("fill", "#000")
  .attr("xml:space", "preserve").text("ES 03-10 (8192 Volume)\u00A0 1/26/2010");
function label(txt, y, col) {
  return svg.append("text").attr("class", "lbl").attr("x", 4).attr("y", y).attr("fill", col || "#000").text(txt);
}
label("EMA(ES 03-10 (8192 Volume),20), ADXVMA_NT7_paint(ES 03-10 (8192 Volume),6,Color [Red],Color [Yellow],Color [CornflowerBlue],True)", 43);
label("DOM_Bands7v109(ES 03-10 (8192 Volume),5)", 515);
label("BuySellVolumeTotalG3(ES 03-10 (8192 Volume))", 669);
label("TradeSizeAnalyzer2(ES 03-10 (8192 Volume),4,VolumesInLevels,3,8)", 823);
label("BMTOBVDiver_w_BBands(ES 03-10 (8192 Volume),14,10,7)", 980);
label("\u00A9 2010 NinjaTrader, LLC", 1088);

// ---- price panel ----
var bars = d3.range(open.length);
var candleCol = { b: "#1414c0", y: "#ffff00", r: "#e00000" };
var cg = svg.append("g");
cg.selectAll("line.wick").data(bars).enter().append("line")
  .attr("x1", function(i){ return Math.round(x(i)) + 0.5; }).attr("x2", function(i){ return Math.round(x(i)) + 0.5; })
  .attr("y1", function(i){ return yPrice(high[i]); }).attr("y2", function(i){ return yPrice(low[i]); })
  .attr("stroke", "#000").attr("stroke-width", 1);
cg.selectAll("rect.body").data(bars.filter(function(i){ return open[i] !== close[i]; })).enter().append("rect")
  .attr("x", function(i){ return Math.round(x(i)) - 2; }).attr("width", 5)
  .attr("y", function(i){ return yPrice(Math.max(open[i], close[i])); })
  .attr("height", function(i){ return Math.abs(yPrice(open[i]) - yPrice(close[i])); })
  .attr("fill", function(i){ return candleCol[paint[i]]; })
  .attr("stroke", "#000").attr("stroke-width", 1).attr("shape-rendering", "crispEdges");
cg.selectAll("line.doji").data(bars.filter(function(i){ return open[i] === close[i]; })).enter().append("line")
  .attr("x1", function(i){ return Math.round(x(i)) - 2; }).attr("x2", function(i){ return Math.round(x(i)) + 3; })
  .attr("y1", function(i){ return yPrice(close[i]); }).attr("y2", function(i){ return yPrice(close[i]); })
  .attr("stroke", "#000").attr("stroke-width", 1.2);

var adxCol = { r: "#e03030", y: "#ffff00", b: "#6495ed" };
var adxPts = adxBars.map(function(b, k){ return [b, adxVals[k], adxPaint[k]]; });
svg.append("g").selectAll("line").data(d3.pairs(adxPts)).enter().append("line")
  .attr("x1", function(p){ return x(p[0][0]); }).attr("y1", function(p){ return yPrice(p[0][1]); })
  .attr("x2", function(p){ return x(p[1][0]); }).attr("y2", function(p){ return yPrice(p[1][1]); })
  .attr("stroke", function(p){ return adxCol[p[0][2]]; }).attr("stroke-width", 1.5).attr("stroke-dasharray", "3,2");

svg.append("path").datum(ema)
  .attr("d", d3.line().x(function(d){ return x(d[0]); }).y(function(d){ return yPrice(d[1]); }).curve(d3.curveMonotoneX))
  .attr("fill", "none").attr("stroke", "#f6b65c").attr("stroke-width", 2).attr("stroke-opacity", 0.9);

// ---- DOM panel ----
svg.append("line").attr("x1", 0).attr("x2", axisX).attr("y1", yDom(0)).attr("y2", yDom(0))
  .attr("stroke", "#555").attr("stroke-width", 2).attr("stroke-dasharray", "6,4");
function domLine(arr, col) {
  svg.append("path").datum(arr)
    .attr("d", d3.line().x(function(d, i){ return x(i); }).y(function(d){ return yDom(d); }))
    .attr("fill", "none").attr("stroke", col).attr("stroke-width", 3).attr("stroke-linejoin", "round");
}
domLine(domBlue, "#4169e1");
domLine(domYellow, "#ffff00");
domLine(domRed, "#ff0000");

// ---- BuySellVolume panel ----
var vg = svg.append("g").attr("shape-rendering", "crispEdges");
vg.selectAll("rect.buy").data(bars).enter().append("rect")
  .attr("x", function(i){ return x(i) - 2; }).attr("width", 4)
  .attr("y", function(i){ return yVol(buys[i]); }).attr("height", function(i){ return yVol(0) - yVol(buys[i]); })
  .attr("fill", "#adff2f");
vg.selectAll("rect.both").data(bars).enter().append("rect")
  .attr("x", function(i){ return x(i) - 2; }).attr("width", 4)
  .attr("y", function(i){ return yVol(Math.min(buys[i], sells[i])); })
  .attr("height", function(i){ return yVol(0) - yVol(Math.min(buys[i], sells[i])); })
  .attr("fill", "#f0c43a");
vg.selectAll("rect.sell").data(bars).enter().append("rect")
  .attr("x", function(i){ return x(i) - 0.6; }).attr("width", 1.3)
  .attr("y", function(i){ return yVol(sells[i]); }).attr("height", function(i){ return yVol(0) - yVol(sells[i]); })
  .attr("fill", "#c41a10");
label("Recording OFF", 788, "#3a3a3a");

// ---- TradeSize panel ----
svg.append("line").attr("x1", 0).attr("x2", axisX).attr("y1", yTs(0)).attr("y2", yTs(0))
  .attr("stroke", "#7a7a7a").attr("stroke-width", 1).attr("stroke-dasharray", "1,2");
var tg = svg.append("g").attr("shape-rendering", "crispEdges");
function stack(cls, lo, hi, col) {
  tg.selectAll("rect." + cls).data(bars).enter().append("rect")
    .attr("x", function(i){ return x(i) - 2.2; }).attr("width", 4.4)
    .attr("y", function(i){ return Math.min(yTs(lo(i)), yTs(hi(i))); })
    .attr("height", function(i){ return Math.abs(yTs(lo(i)) - yTs(hi(i))); })
    .attr("fill", col);
}
stack("tb", function(){ return 0; }, function(i){ return tsBlue[i]; }, "#0000f0");
stack("ty", function(i){ return tsBlue[i]; }, function(i){ return tsBlue[i] + tsYellow[i]; }, "#ffff00");
stack("tg", function(i){ return tsBlue[i] + tsYellow[i]; }, function(i){ return tsBlue[i] + tsYellow[i] + tsGreen[i]; }, "#2a8c2a");
stack("tr", function(){ return 0; }, function(i){ return -tsRed[i]; }, "#ff0000");
stack("to", function(i){ return -tsRed[i]; }, function(i){ return -tsRed[i] - tsOrange[i]; }, "#de9526");
stack("tn", function(i){ return -tsRed[i] - tsOrange[i]; }, function(i){ return -tsRed[i] - tsOrange[i] - tsBrown[i]; }, "#8b4513");
label("Recording OFF", 942, "#3a3a3a");

// ---- BMT OBV panel ----
var bline = d3.line().x(function(d){ return x(d[0]); }).y(function(d){ return yBmt(d[1]); }).curve(d3.curveMonotoneX);
svg.append("path").datum(bmtUpper).attr("d", bline).attr("fill", "none")
  .attr("stroke", "#e02020").attr("stroke-width", 1).attr("stroke-dasharray", "1,1");
svg.append("path").datum(bmtLower).attr("d", bline).attr("fill", "none")
  .attr("stroke", "#2a2ad8").attr("stroke-width", 1).attr("stroke-dasharray", "1,1");
svg.append("path").datum(bmtMid).attr("d", bline).attr("fill", "none")
  .attr("stroke", "#ffffff").attr("stroke-width", 4);
var dotCol = { b: "#0000ff", r: "#ff0000" };
svg.append("g").selectAll("circle").data(bars.filter(function(i){ return bmtPaint[i] !== "d"; })).enter().append("circle")
  .attr("cx", function(i){ return x(i); }).attr("cy", function(i){ return yBmt(bmt[i]); }).attr("r", 2.9)
  .attr("fill", function(i){ return dotCol[bmtPaint[i]]; });
svg.append("g").selectAll("path").data(bars.filter(function(i){ return bmtPaint[i] === "d"; })).enter().append("path")
  .attr("d", function(i){ var cx = x(i), cy = yBmt(bmt[i]); return "M" + cx + "," + (cy - 5.5) + "L" + (cx + 4.5) + "," + cy + "L" + cx + "," + (cy + 5.5) + "L" + (cx - 4.5) + "," + cy + "Z"; })
  .attr("fill", "#00ffff").attr("stroke", "#005a5a").attr("stroke-width", 0.8);

// ---- frame ----
var fr = svg.append("g").attr("stroke", "#000").attr("stroke-width", 1.5).attr("shape-rendering", "crispEdges");
[27, 492, 646, 802, 957, 1091, 1132].forEach(function(y){
  fr.append("line").attr("x1", 0).attr("x2", W).attr("y1", y).attr("y2", y);
});
fr.append("line").attr("x1", 1).attr("x2", 1).attr("y1", 27).attr("y2", 1132);
fr.append("line").attr("x1", axisX).attr("x2", axisX).attr("y1", 27).attr("y2", 1091);
fr.append("line").attr("x1", W - 1).attr("x2", W - 1).attr("y1", 27).attr("y2", 1132);

// ---- axes ----
function rightAxis(scale, vals, fmt) {
  var g = svg.append("g").attr("class", "axis").attr("transform", "translate(" + axisX + ",0)")
    .call(d3.axisRight(scale).tickValues(vals).tickFormat(fmt).tickSize(5).tickPadding(2));
  g.select(".domain").remove();
}
rightAxis(yPrice, priceTicks, d3.format(".2f"));
rightAxis(yDom, domTicks, function(d){ return d * 1000; });
rightAxis(yVol, volTicks, function(d){ return d; });
rightAxis(yTs, tsTicks, function(d){ return d * 100; });
rightAxis(yBmt, bmtTicks, function(d){ return d; });

var xa = svg.append("g").attr("class", "axis").attr("transform", "translate(0,1091)")
  .call(d3.axisBottom(x).tickValues(tickBars).tickFormat(function(d, i){ return tickLabels[i]; }).tickSize(6).tickPadding(4));
xa.select(".domain").remove();

// ---- value markers on the right axis ----
function tag(y, w, txt, bg, fg) {
  var x0 = axisX + 1;
  svg.append("path").attr("d", "M" + x0 + "," + y + "l7,-7h" + (w - 7) + "v14h" + (7 - w) + "z")
    .attr("fill", bg).attr("stroke", "#000").attr("stroke-width", 1);
  svg.append("text").attr("x", x0 + 8).attr("y", y + 4.5).attr("font-size", 12.5).attr("fill", fg)
    .attr("textLength", w - 11).attr("lengthAdjust", "spacingAndGlyphs").text(txt);
}
var last = open.length - 1;
tag(yPrice(close[last]), 48, d3.format(".2f")(close[last]), "#000000", "#ffffff");
tag(yPrice(ema[ema.length - 1][1]), 48, d3.format(".2f")(ema[ema.length - 1][1]), "#ff9a00", "#000000");
tag(yPrice(adxVals[adxVals.length - 1]), 48, d3.format(".2f")(adxVals[adxVals.length - 1]), "#ffff00", "#000000");
tag(yDom(domRed[last]), 32, Math.round(domRed[last] * 1000), "#ff0000", "#ffffff");
tag(yDom(domYellow[last]) + 3, 30, Math.round(domYellow[last] * 1000), "#ffff00", "#000000");
tag(yVol(buys[last] + sells[last]), 32, Math.round(buys[last] + sells[last]), "#c0c0c0", "#000000");
tag(yVol(sells[last]), 48, d3.format(".2f")(sells[last]), "#ff0000", "#ffffff");
tag(yVol(buys[last]), 48, d3.format(".2f")(buys[last]), "#adff2f", "#000000");
tag(yBmt(bmt[last]), 36, d3.format(".2f")(bmt[last]), "#ff0000", "#ffffff");
tag(yBmt(bmtMid[bmtMid.length - 1][1]), 36, d3.format(".2f")(bmtMid[bmtMid.length - 1][1]), "#ffffff", "#000000");
tag(yBmt(bmtLower[bmtLower.length - 1][1]), 36, d3.format(".2f")(bmtLower[bmtLower.length - 1][1]), "#0000ff", "#ffffff");
</script>
</body>
</html>
